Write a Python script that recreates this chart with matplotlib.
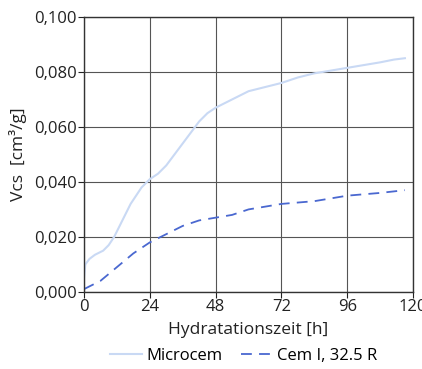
import matplotlib
matplotlib.use("Agg")
import matplotlib.pyplot as plt
from matplotlib.ticker import FuncFormatter

plt.rcParams["font.family"] = ["Open Sans", "DejaVu Sans"]

# Microcem (light blue, solid)
micro_h = [0, 0.5, 2, 4, 7, 9, 11, 13, 15, 17, 19, 21, 24, 27, 30, 33, 36, 39, 42, 45, 48, 52, 56, 60,
           66, 72, 78, 84, 90, 96, 102, 108, 113, 117]
micro_v = [0.005, 0.010, 0.012, 0.0135, 0.015, 0.017, 0.020, 0.024, 0.028, 0.032, 0.035, 0.038, 0.041,
           0.043, 0.046, 0.050, 0.054, 0.058, 0.062, 0.065, 0.067, 0.069, 0.071, 0.073, 0.0745, 0.076,
           0.078, 0.0795, 0.0805, 0.0815, 0.0825, 0.0835, 0.0845, 0.085]

# Cem I, 32.5 R (blue, dashed)
cem_h = [0, 6, 12, 18, 24, 30, 36, 42, 48, 54, 60, 66, 72, 84, 96, 108, 117]
cem_v = [0.001, 0.004, 0.009, 0.014, 0.018, 0.021, 0.024, 0.026, 0.027, 0.028, 0.030, 0.031, 0.032,
         0.033, 0.035, 0.036, 0.037]

x_ticks = [0, 24, 48, 72, 96, 120]
y_ticks = [0.0, 0.02, 0.04, 0.06, 0.08, 0.1]

fig = plt.figure(figsize=(4.22, 3.69), dpi=100)
ax = fig.add_axes([0.199, 0.209, 0.780, 0.745])

ax.plot(micro_h, micro_v, color="#c9d9f4", lw=1.5, label="Microcem")
ax.plot(cem_h, cem_v, color="#4a68d0", lw=1.3, ls=(0, (6, 4)), label="Cem I, 32.5 R")

ax.set_xlim(0, 120)
ax.set_ylim(0, 0.1)
ax.set_xticks(x_ticks)
ax.set_yticks(y_ticks)
ax.yaxis.set_major_formatter(FuncFormatter(lambda v, p: f"{v:.3f}".replace(".", ",")))
ax.grid(True, color="#555555", lw=0.8)
ax.set_axisbelow(True)
for s in ax.spines.values():
    s.set_color("#333333")
    s.set_linewidth(1.0)
ax.tick_params(direction="out", length=4, width=0.8, colors="#222222", labelsize=12, pad=1)

ax.set_xlabel("Hydratationszeit [h]", fontsize=12.5, color="#222222", labelpad=5)
ax.set_ylabel("Vcs  [cm³/g]", fontsize=12.5, color="#222222", labelpad=5)

ax.legend(loc="upper center", bbox_to_anchor=(0.485, -0.16), ncol=2, frameon=False,
          fontsize=12, handlelength=1.9, columnspacing=1.1, handletextpad=0.25,
          borderpad=0.2)

fig.savefig("out.png", dpi=100)
